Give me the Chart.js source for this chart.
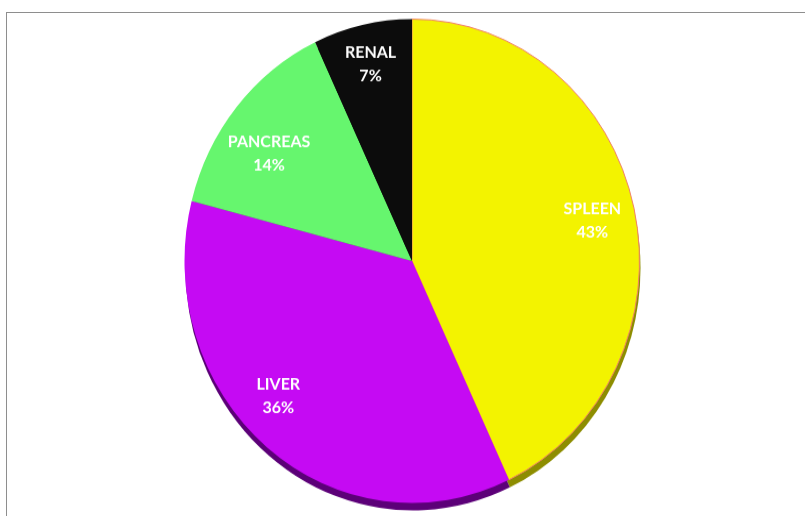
<!DOCTYPE html>
<html>
<head>
<meta charset="utf-8">
<script src="https://cdn.jsdelivr.net/npm/chart.js@4/dist/chart.umd.min.js"></script>
<style>
  html, body { margin: 0; padding: 0; background: #ffffff; width: 805px; height: 516px; overflow: hidden; }
  #frame { position: absolute; left: 6px; top: 12px; width: 820px; height: 520px;
           border-left: 1px solid #8e8e8e; border-top: 1px solid #8e8e8e; }
  #wrap { position: absolute; left: 174px; top: 23px; width: 476px; height: 476px;
          transform: scaleY(1.0635); transform-origin: 50% 50%; }
</style>
</head>
<body>
<div id="frame"></div>
<div id="wrap"><canvas id="c"></canvas></div>
<script>
// ---- data ----
const categories = ['SPLEEN', 'LIVER', 'PANCREAS', 'RENAL'];
const percentages = [43, 36, 14, 7];

// ---- styles ----
const sliceColors = ['#f3f300', '#c50af3', '#66f66e', '#0c0c0c'];
const rimColors = ['#8d8d00', '#5c0078', '#2f8a33', '#000000'];
const sliceBorderColors = ['#f0806a', 'rgba(0,0,0,0)', 'rgba(0,0,0,0)', 'rgba(0,0,0,0)'];
const sliceBorderWidths = [1, 0, 0, 0];
const labelRadiusFactor = [0.81, 0.81, 0.77, 0.835];
const labelAngleShiftDeg = [0.7, 6.9, -4.3, 0];

const rimPlugin = {
  id: 'rim',
  beforeDatasetsDraw(chart) {
    const ctx = chart.ctx;
    const meta = chart.getDatasetMeta(0);
    ctx.save();
    meta.data.forEach((arc, i) => {
      const p = arc.getProps(['x', 'y', 'startAngle', 'endAngle', 'outerRadius'], true);
      const ox = p.x + 1, oy = p.y + 7;
      ctx.beginPath();
      ctx.moveTo(ox, oy);
      ctx.arc(ox, oy, p.outerRadius, p.startAngle, p.endAngle);
      ctx.closePath();
      ctx.fillStyle = rimColors[i];
      ctx.fill();
    });
    ctx.restore();
  }
};

const labelPlugin = {
  id: 'sliceLabels',
  afterDatasetsDraw(chart) {
    const ctx = chart.ctx;
    const meta = chart.getDatasetMeta(0);
    ctx.save();
    ctx.fillStyle = '#ffffff';
    ctx.font = 'bold 16px Lato';
    ctx.textAlign = 'center';
    ctx.textBaseline = 'middle';
    meta.data.forEach((arc, i) => {
      const p = arc.getProps(['x', 'y', 'startAngle', 'endAngle', 'outerRadius'], true);
      const mid = (p.startAngle + p.endAngle) / 2 + labelAngleShiftDeg[i] * Math.PI / 180;
      const r = p.outerRadius * labelRadiusFactor[i];
      const lx = p.x + Math.cos(mid) * r;
      const ly = p.y + Math.sin(mid) * r;
      ctx.fillText(categories[i], lx, ly - 11);
      ctx.fillText(percentages[i] + '%', lx, ly + 11);
    });
    ctx.restore();
  }
};

new Chart(document.getElementById('c'), {
  type: 'pie',
  data: {
    labels: categories,
    datasets: [{
      data: percentages,
      backgroundColor: sliceColors,
      borderColor: sliceBorderColors,
      borderWidth: sliceBorderWidths
    }]
  },
  options: {
    responsive: true,
    maintainAspectRatio: false,
    animation: false,
    layout: { padding: 10 },
    plugins: { legend: { display: false }, tooltip: { enabled: false } }
  },
  plugins: [rimPlugin, labelPlugin]
});
</script>
</body>
</html>
